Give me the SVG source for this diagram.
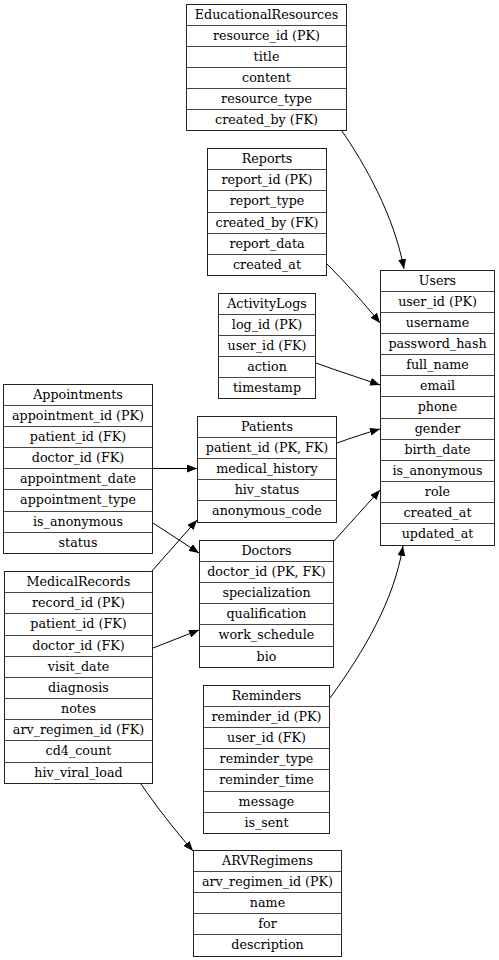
<svg xmlns="http://www.w3.org/2000/svg" width="499" height="960" viewBox="0 0 499 960">
  <style>
    .tbl rect { fill: #ffffff; stroke: #222222; stroke-width: 1; }
    .tbl line { stroke: #444444; stroke-width: 1; }
    .tbl text { font-family: "DejaVu Serif", "Liberation Serif", serif; font-size: 12.7px; fill: #000000; text-anchor: middle; }
    .edge { fill: none; stroke: #000000; stroke-width: 1; }
  </style>
  <defs>
    <marker id="arrow" markerUnits="userSpaceOnUse" markerWidth="10" markerHeight="8" refX="10" refY="4" orient="auto">
      <path d="M0,0 L10,4 L0,8 Z" fill="#000000"/>
    </marker>
  </defs>
  <rect width="499" height="960" fill="#ffffff"/>

  <!-- EducationalResources -->
  <g id="EducationalResources" class="tbl">
    <rect x="186.5" y="4.5" width="160" height="126"/>
    <line x1="186.5" y1="25.5" x2="346.5" y2="25.5"/>
    <line x1="186.5" y1="46.5" x2="346.5" y2="46.5"/>
    <line x1="186.5" y1="67.5" x2="346.5" y2="67.5"/>
    <line x1="186.5" y1="88.5" x2="346.5" y2="88.5"/>
    <line x1="186.5" y1="109.5" x2="346.5" y2="109.5"/>
    <text x="266.5" y="19">EducationalResources</text>
    <text x="266.5" y="40">resource_id (PK)</text>
    <text x="266.5" y="61">title</text>
    <text x="266.5" y="82">content</text>
    <text x="266.5" y="103">resource_type</text>
    <text x="266.5" y="124">created_by (FK)</text>
  </g>

  <!-- Reports -->
  <g id="Reports" class="tbl">
    <rect x="207.5" y="148.5" width="119" height="127"/>
    <line x1="207.5" y1="169.5" x2="326.5" y2="169.5"/>
    <line x1="207.5" y1="190.5" x2="326.5" y2="190.5"/>
    <line x1="207.5" y1="212.5" x2="326.5" y2="212.5"/>
    <line x1="207.5" y1="233.5" x2="326.5" y2="233.5"/>
    <line x1="207.5" y1="254.5" x2="326.5" y2="254.5"/>
    <text x="267" y="163">Reports</text>
    <text x="267" y="184">report_id (PK)</text>
    <text x="267" y="205">report_type</text>
    <text x="267" y="227">created_by (FK)</text>
    <text x="267" y="248">report_data</text>
    <text x="267" y="269">created_at</text>
  </g>

  <!-- ActivityLogs -->
  <g id="ActivityLogs" class="tbl">
    <rect x="218.5" y="293.5" width="97" height="105"/>
    <line x1="218.5" y1="314.5" x2="315.5" y2="314.5"/>
    <line x1="218.5" y1="335.5" x2="315.5" y2="335.5"/>
    <line x1="218.5" y1="356.5" x2="315.5" y2="356.5"/>
    <line x1="218.5" y1="377.5" x2="315.5" y2="377.5"/>
    <text x="267" y="308">ActivityLogs</text>
    <text x="267" y="329">log_id (PK)</text>
    <text x="267" y="350">user_id (FK)</text>
    <text x="267" y="371">action</text>
    <text x="267" y="392">timestamp</text>
  </g>

  <!-- Users -->
  <g id="Users" class="tbl">
    <rect x="380.5" y="270.5" width="114" height="275"/>
    <line x1="380.5" y1="291.5" x2="494.5" y2="291.5"/>
    <line x1="380.5" y1="312.5" x2="494.5" y2="312.5"/>
    <line x1="380.5" y1="333.5" x2="494.5" y2="333.5"/>
    <line x1="380.5" y1="354.5" x2="494.5" y2="354.5"/>
    <line x1="380.5" y1="375.5" x2="494.5" y2="375.5"/>
    <line x1="380.5" y1="396.5" x2="494.5" y2="396.5"/>
    <line x1="380.5" y1="418.5" x2="494.5" y2="418.5"/>
    <line x1="380.5" y1="439.5" x2="494.5" y2="439.5"/>
    <line x1="380.5" y1="460.5" x2="494.5" y2="460.5"/>
    <line x1="380.5" y1="481.5" x2="494.5" y2="481.5"/>
    <line x1="380.5" y1="502.5" x2="494.5" y2="502.5"/>
    <line x1="380.5" y1="523.5" x2="494.5" y2="523.5"/>
    <text x="437.5" y="285">Users</text>
    <text x="437.5" y="306">user_id (PK)</text>
    <text x="437.5" y="327">username</text>
    <text x="437.5" y="348">password_hash</text>
    <text x="437.5" y="369">full_name</text>
    <text x="437.5" y="390">email</text>
    <text x="437.5" y="411">phone</text>
    <text x="437.5" y="433">gender</text>
    <text x="437.5" y="454">birth_date</text>
    <text x="437.5" y="475">is_anonymous</text>
    <text x="437.5" y="496">role</text>
    <text x="437.5" y="517">created_at</text>
    <text x="437.5" y="538">updated_at</text>
  </g>

  <!-- Appointments -->
  <g id="Appointments" class="tbl">
    <rect x="3.5" y="384.5" width="149" height="169"/>
    <line x1="3.5" y1="405.5" x2="152.5" y2="405.5"/>
    <line x1="3.5" y1="426.5" x2="152.5" y2="426.5"/>
    <line x1="3.5" y1="447.5" x2="152.5" y2="447.5"/>
    <line x1="3.5" y1="468.5" x2="152.5" y2="468.5"/>
    <line x1="3.5" y1="489.5" x2="152.5" y2="489.5"/>
    <line x1="3.5" y1="511.5" x2="152.5" y2="511.5"/>
    <line x1="3.5" y1="532.5" x2="152.5" y2="532.5"/>
    <text x="78" y="399">Appointments</text>
    <text x="78" y="420">appointment_id (PK)</text>
    <text x="78" y="441">patient_id (FK)</text>
    <text x="78" y="462">doctor_id (FK)</text>
    <text x="78" y="483">appointment_date</text>
    <text x="78" y="504">appointment_type</text>
    <text x="78" y="526">is_anonymous</text>
    <text x="78" y="547">status</text>
  </g>

  <!-- Patients -->
  <g id="Patients" class="tbl">
    <rect x="197.5" y="416.5" width="139" height="106"/>
    <line x1="197.5" y1="437.5" x2="336.5" y2="437.5"/>
    <line x1="197.5" y1="458.5" x2="336.5" y2="458.5"/>
    <line x1="197.5" y1="479.5" x2="336.5" y2="479.5"/>
    <line x1="197.5" y1="500.5" x2="336.5" y2="500.5"/>
    <text x="267" y="431">Patients</text>
    <text x="267" y="452">patient_id (PK, FK)</text>
    <text x="267" y="473">medical_history</text>
    <text x="267" y="494">hiv_status</text>
    <text x="267" y="515">anonymous_code</text>
  </g>

  <!-- Doctors -->
  <g id="Doctors" class="tbl">
    <rect x="199.5" y="540.5" width="134" height="127"/>
    <line x1="199.5" y1="561.5" x2="333.5" y2="561.5"/>
    <line x1="199.5" y1="582.5" x2="333.5" y2="582.5"/>
    <line x1="199.5" y1="603.5" x2="333.5" y2="603.5"/>
    <line x1="199.5" y1="624.5" x2="333.5" y2="624.5"/>
    <line x1="199.5" y1="646.5" x2="333.5" y2="646.5"/>
    <text x="266.5" y="555">Doctors</text>
    <text x="266.5" y="576">doctor_id (PK, FK)</text>
    <text x="266.5" y="597">specialization</text>
    <text x="266.5" y="618">qualification</text>
    <text x="266.5" y="639">work_schedule</text>
    <text x="266.5" y="661">bio</text>
  </g>

  <!-- MedicalRecords -->
  <g id="MedicalRecords" class="tbl">
    <rect x="4.5" y="571.5" width="148" height="212"/>
    <line x1="4.5" y1="592.5" x2="152.5" y2="592.5"/>
    <line x1="4.5" y1="613.5" x2="152.5" y2="613.5"/>
    <line x1="4.5" y1="635.5" x2="152.5" y2="635.5"/>
    <line x1="4.5" y1="656.5" x2="152.5" y2="656.5"/>
    <line x1="4.5" y1="677.5" x2="152.5" y2="677.5"/>
    <line x1="4.5" y1="698.5" x2="152.5" y2="698.5"/>
    <line x1="4.5" y1="719.5" x2="152.5" y2="719.5"/>
    <line x1="4.5" y1="740.5" x2="152.5" y2="740.5"/>
    <line x1="4.5" y1="762.5" x2="152.5" y2="762.5"/>
    <text x="78.5" y="586">MedicalRecords</text>
    <text x="78.5" y="607">record_id (PK)</text>
    <text x="78.5" y="628">patient_id (FK)</text>
    <text x="78.5" y="650">doctor_id (FK)</text>
    <text x="78.5" y="671">visit_date</text>
    <text x="78.5" y="692">diagnosis</text>
    <text x="78.5" y="713">notes</text>
    <text x="78.5" y="734">arv_regimen_id (FK)</text>
    <text x="78.5" y="755">cd4_count</text>
    <text x="78.5" y="777">hiv_viral_load</text>
  </g>

  <!-- Reminders -->
  <g id="Reminders" class="tbl">
    <rect x="203.5" y="685.5" width="126" height="148"/>
    <line x1="203.5" y1="706.5" x2="329.5" y2="706.5"/>
    <line x1="203.5" y1="727.5" x2="329.5" y2="727.5"/>
    <line x1="203.5" y1="748.5" x2="329.5" y2="748.5"/>
    <line x1="203.5" y1="769.5" x2="329.5" y2="769.5"/>
    <line x1="203.5" y1="791.5" x2="329.5" y2="791.5"/>
    <line x1="203.5" y1="812.5" x2="329.5" y2="812.5"/>
    <text x="266.5" y="700">Reminders</text>
    <text x="266.5" y="721">reminder_id (PK)</text>
    <text x="266.5" y="742">user_id (FK)</text>
    <text x="266.5" y="763">reminder_type</text>
    <text x="266.5" y="784">reminder_time</text>
    <text x="266.5" y="806">message</text>
    <text x="266.5" y="827">is_sent</text>
  </g>

  <!-- ARVRegimens -->
  <g id="ARVRegimens" class="tbl">
    <rect x="193.5" y="850.5" width="148" height="106"/>
    <line x1="193.5" y1="871.5" x2="341.5" y2="871.5"/>
    <line x1="193.5" y1="892.5" x2="341.5" y2="892.5"/>
    <line x1="193.5" y1="913.5" x2="341.5" y2="913.5"/>
    <line x1="193.5" y1="934.5" x2="341.5" y2="934.5"/>
    <text x="267.5" y="865">ARVRegimens</text>
    <text x="267.5" y="886">arv_regimen_id (PK)</text>
    <text x="267.5" y="907">name</text>
    <text x="267.5" y="928">for</text>
    <text x="267.5" y="949">description</text>
  </g>

  <!-- foreign-key connectors -->
  <g id="connectors">
    <path class="edge" marker-end="url(#arrow)" d="M342,131 C364,163 394,215 404,269"/>
    <path class="edge" marker-end="url(#arrow)" d="M326,263 C345,282 364,303 380,323"/>
    <path class="edge" marker-end="url(#arrow)" d="M316,363 C338,371 360,378 380,385"/>
    <path class="edge" marker-end="url(#arrow)" d="M337,443 C351,438 366,433 380,429"/>
    <path class="edge" marker-end="url(#arrow)" d="M334,541 C349,524 365,507 380,490"/>
    <path class="edge" marker-end="url(#arrow)" d="M330,698 C365,650 394,600 403,546"/>
    <path class="edge" marker-end="url(#arrow)" d="M153,468.5 L197,468.5"/>
    <path class="edge" marker-end="url(#arrow)" d="M153,523 C168,533 184,543 199,553"/>
    <path class="edge" marker-end="url(#arrow)" d="M152,571 C167,554 182,537 197,520"/>
    <path class="edge" marker-end="url(#arrow)" d="M153,648 C168,642 184,636 199,630"/>
    <path class="edge" marker-end="url(#arrow)" d="M141,784 C156,806 174,829 193,851"/>
  </g>
</svg>
